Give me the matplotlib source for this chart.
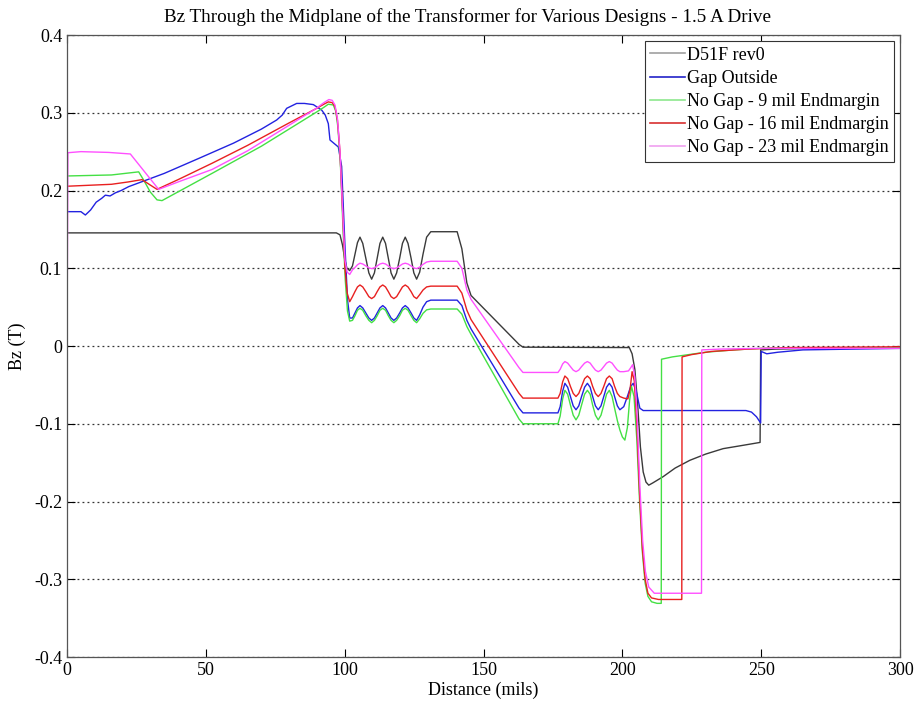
import numpy as np
import matplotlib
matplotlib.use('Agg')
import matplotlib.pyplot as plt

plt.rcParams['font.family'] = ['Liberation Serif', 'DejaVu Serif']

# shared x positions for the ripple regions (mils)
osc1_x = [101.8, 102.8, 103.7, 104.6, 105.5, 106.5, 107.6, 108.7, 109.7, 110.7, 111.7, 112.7,
          113.7, 114.7, 115.7, 116.7, 117.7, 118.7, 119.8, 120.8, 121.8, 122.8, 123.9, 124.9, 125.9]
flat1_x = [127.0, 128.2, 129.5, 131.0, 140.5, 142.2, 144.0, 145.5, 162.8, 164.2]
osc2_x = [176.8, 177.6, 178.5, 179.3, 180.3, 181.3, 182.3, 183.3, 184.3, 185.3, 186.4, 187.4,
          188.4, 189.3, 190.3, 191.3, 192.3, 193.3, 194.3, 195.3, 196.3, 197.2, 198.2, 199.1]

# D51F rev0
rev0_head_x = [0, 97.0, 98.3, 99.2, 100.0, 100.8]
rev0_head_y = [0.1455, 0.1455, 0.143, 0.130, 0.112, 0.100]
rev0_osc1_y = [0.097, 0.103, 0.118, 0.133, 0.140, 0.132, 0.113, 0.094, 0.086, 0.094, 0.113, 0.132,
               0.140, 0.132, 0.113, 0.094, 0.086, 0.094, 0.113, 0.132, 0.140, 0.132, 0.113, 0.094, 0.086]
rev0_flat1_y = [0.095, 0.118, 0.140, 0.147, 0.147, 0.125, 0.081, 0.065, 0.002, -0.0015]
rev0_tail_x = [202.5, 203.5, 204.5, 205.5, 206.5, 207.5, 208.5, 209.5, 211.0, 214.7, 219.0, 224.3,
               230.0, 236.3, 243.0, 249.6, 249.8, 255.0, 270.0, 300.0]
rev0_tail_y = [-0.002, -0.010, -0.030, -0.075, -0.130, -0.162, -0.175, -0.179, -0.176, -0.168, -0.157, -0.147,
               -0.139, -0.132, -0.128, -0.124, -0.005, -0.004, -0.003, -0.003]

# Gap Outside
gap_head_x = [0, 5.0, 6.6, 8.5, 10.5, 12.5, 13.8, 15.5, 17.4, 19.5, 22.2, 35.0, 47.9, 60.0, 70.0, 75.5,
              77.5, 79.1, 82.7, 85.5, 88.7, 91.7, 93.0, 94.1, 94.7, 97.7, 98.9, 100.1, 101.0]
gap_head_y = [0.1728, 0.1728, 0.1685, 0.175, 0.185, 0.190, 0.194, 0.193, 0.197, 0.200, 0.205, 0.222, 0.242,
              0.261, 0.279, 0.2907, 0.297, 0.3057, 0.312, 0.312, 0.3105, 0.3035, 0.297, 0.286, 0.265,
              0.256, 0.231, 0.128, 0.060]
gap_osc1_y = [0.036, 0.036, 0.0425, 0.049, 0.052, 0.049, 0.0425, 0.036, 0.033, 0.036, 0.0425, 0.049,
              0.052, 0.049, 0.0425, 0.036, 0.033, 0.036, 0.0425, 0.049, 0.052, 0.049, 0.0425, 0.036, 0.033]
gap_flat1_y = [0.040, 0.050, 0.057, 0.059, 0.059, 0.052, 0.033, 0.022, -0.080, -0.086]
gap_osc2_y = [-0.086, -0.078, -0.058, -0.048, -0.053, -0.065, -0.077, -0.082, -0.077, -0.065, -0.053, -0.048,
              -0.053, -0.065, -0.077, -0.082, -0.077, -0.065, -0.053, -0.048, -0.053, -0.065, -0.077, -0.082]
gap_tail_x = [200.5, 201.8, 203.0, 203.9, 205.0, 206.3, 207.5, 244.5, 246.5, 248.3, 249.8, 250.0,
              252.0, 256.0, 265.0, 300.0]
gap_tail_y = [-0.078, -0.065, -0.052, -0.048, -0.058, -0.080, -0.083, -0.083, -0.085, -0.091, -0.099, -0.007,
              -0.010, -0.008, -0.005, -0.003]

# No Gap - 9 mil Endmargin
em9_head_x = [0, 16.0, 25.8, 27.5, 30.0, 32.4, 34.2, 52.2, 70.0, 89.9, 92.5, 94.1, 95.9, 96.8,
              97.6, 98.5, 99.4, 100.2, 101.0]
em9_head_y = [0.2187, 0.220, 0.224, 0.214, 0.198, 0.188, 0.187, 0.222, 0.257, 0.301, 0.307, 0.311, 0.310,
              0.302, 0.280, 0.230, 0.150, 0.085, 0.045]
em9_osc1_y = [0.032, 0.033, 0.039, 0.046, 0.0485, 0.046, 0.039, 0.033, 0.030, 0.033, 0.039, 0.046,
              0.0485, 0.046, 0.039, 0.033, 0.030, 0.033, 0.039, 0.046, 0.0485, 0.046, 0.039, 0.033, 0.030]
em9_flat1_y = [0.035, 0.042, 0.0465, 0.0476, 0.0476, 0.041, 0.025, 0.015, -0.094, -0.100]
em9_osc2_y = [-0.100, -0.090, -0.068, -0.057, -0.062, -0.076, -0.089, -0.095, -0.089, -0.076, -0.062, -0.057,
              -0.062, -0.076, -0.089, -0.095, -0.089, -0.076, -0.062, -0.057, -0.065, -0.080, -0.096, -0.108]
em9_tail_x = [200.0, 200.9, 201.8, 202.6, 203.3, 204.2, 205.2, 206.2, 207.2, 208.2, 209.2, 210.5,
              212.5, 214.0, 214.1, 218.0, 222.0, 230.0, 240.0, 250.0, 300.0]
em9_tail_y = [-0.117, -0.121, -0.105, -0.070, -0.052, -0.065, -0.120, -0.200, -0.265, -0.305, -0.322, -0.329,
              -0.331, -0.331, -0.017, -0.014, -0.012, -0.008, -0.005, -0.003, -0.002]

# No Gap - 16 mil Endmargin
em16_head_x = [0, 16.0, 22.0, 27.0, 30.0, 32.4, 40.0, 52.2, 65.0, 80.0, 89.9, 92.5, 94.1, 95.5,
               96.5, 97.4, 98.3, 99.3, 100.1, 100.9]
em16_head_y = [0.2055, 0.208, 0.211, 0.214, 0.207, 0.2015, 0.214, 0.235, 0.258, 0.287, 0.3057, 0.311, 0.314,
               0.313, 0.308, 0.290, 0.250, 0.170, 0.100, 0.068]
em16_osc1_y = [0.057, 0.0635, 0.070, 0.076, 0.0785, 0.076, 0.070, 0.0635, 0.061, 0.0635, 0.070, 0.076,
               0.0785, 0.076, 0.070, 0.0635, 0.061, 0.0635, 0.070, 0.076, 0.0785, 0.076, 0.070, 0.0635, 0.061]
em16_flat1_y = [0.066, 0.072, 0.076, 0.077, 0.077, 0.068, 0.046, 0.034, -0.061, -0.067]
em16_osc2_y = [-0.067, -0.061, -0.046, -0.0386, -0.042, -0.052, -0.061, -0.065, -0.061, -0.052, -0.042, -0.0386,
               -0.042, -0.052, -0.061, -0.065, -0.061, -0.052, -0.042, -0.0386, -0.042, -0.052, -0.061, -0.065]
em16_tail_x = [200.5, 202.0, 202.8, 203.5, 204.3, 205.2, 206.2, 207.2, 208.2, 209.2, 210.5, 213.0,
               221.4, 221.5, 225.0, 232.0, 245.0, 260.0, 300.0]
em16_tail_y = [-0.067, -0.068, -0.055, -0.033, -0.045, -0.100, -0.190, -0.260, -0.300, -0.318, -0.324, -0.326,
               -0.326, -0.014, -0.011, -0.007, -0.004, -0.002, -0.001]

# No Gap - 23 mil Endmargin
em23_head_x = [0, 0.3, 5.0, 15.0, 22.8, 33.0, 40.0, 52.2, 65.0, 80.0, 89.9, 92.5, 94.3, 95.5,
               96.5, 97.4, 98.3, 99.3, 100.1, 100.9]
em23_head_y = [0.0, 0.2486, 0.250, 0.249, 0.247, 0.2015, 0.211, 0.227, 0.251, 0.284, 0.306, 0.313, 0.317,
               0.316, 0.310, 0.292, 0.250, 0.170, 0.110, 0.095]
em23_osc1_y = [0.092, 0.098, 0.101, 0.1045, 0.1065, 0.1055, 0.103, 0.1005, 0.0995, 0.1005, 0.103, 0.1055,
               0.1065, 0.1055, 0.103, 0.1005, 0.0995, 0.1005, 0.103, 0.1055, 0.1065, 0.1055, 0.103, 0.1005, 0.0995]
em23_flat1_y = [0.1015, 0.105, 0.108, 0.109, 0.109, 0.100, 0.072, 0.060, -0.028, -0.034]
em23_osc2_y = [-0.034, -0.030, -0.023, -0.020, -0.022, -0.0265, -0.031, -0.033, -0.031, -0.0265, -0.022, -0.020,
               -0.022, -0.0265, -0.031, -0.033, -0.031, -0.0265, -0.022, -0.020, -0.022, -0.0265, -0.031, -0.033]
em23_tail_x = [200.5, 202.2, 203.0, 203.7, 204.5, 205.3, 206.3, 207.3, 208.3, 209.5, 211.5, 228.5,
               228.6, 235.0, 250.0, 300.0]
em23_tail_y = [-0.033, -0.032, -0.028, -0.024, -0.040, -0.090, -0.180, -0.250, -0.290, -0.310, -0.318, -0.318,
               -0.005, -0.004, -0.003, -0.003]

series = [
    ('D51F rev0', '#3a3a3a', '#a0a0a0',
     rev0_head_x + osc1_x + flat1_x + rev0_tail_x,
     rev0_head_y + rev0_osc1_y + rev0_flat1_y + rev0_tail_y),
    ('Gap Outside', '#2222e0', '#2222c8',
     gap_head_x + osc1_x + flat1_x + osc2_x + gap_tail_x,
     gap_head_y + gap_osc1_y + gap_flat1_y + gap_osc2_y + gap_tail_y),
    ('No Gap - 9 mil Endmargin', '#44e044', '#8ee88e',
     em9_head_x + osc1_x + flat1_x + osc2_x + em9_tail_x,
     em9_head_y + em9_osc1_y + em9_flat1_y + em9_osc2_y + em9_tail_y),
    ('No Gap - 16 mil Endmargin', '#e82020', '#d83030',
     em16_head_x + osc1_x + flat1_x + osc2_x + em16_tail_x,
     em16_head_y + em16_osc1_y + em16_flat1_y + em16_osc2_y + em16_tail_y),
    ('No Gap - 23 mil Endmargin', '#ff50ff', '#f0a0f0',
     em23_head_x + osc1_x + flat1_x + osc2_x + em23_tail_x,
     em23_head_y + em23_osc1_y + em23_flat1_y + em23_osc2_y + em23_tail_y),
]

fig = plt.figure(figsize=(9.17, 7.06), dpi=100)
ax = fig.add_axes([0.0731, 0.0694, 0.9084, 0.881])

handles = []
for label, color, legend_color, xs, ys in series:
    ax.plot(xs, ys, color=color, lw=1.0)
    h, = ax.plot([], [], color=legend_color, lw=1.2, label=label)
    handles.append(h)

ax.set_xlim(0, 300)
ax.set_ylim(-0.4, 0.4)
ax.set_xticks(np.arange(0, 301, 50))
yt = np.round(np.arange(-0.4, 0.41, 0.1), 1)
ax.set_yticks(yt)
ax.set_yticklabels(['0' if v == 0 else f'{v:g}' for v in yt])

ax.yaxis.grid(True, linestyle=(0, (1.5, 2.5)), color='#333333', lw=0.9)
ax.set_axisbelow(True)
ax.tick_params(direction='in', top=True, right=True, length=6, labelsize=13, width=0.8)
for sp in ax.spines.values():
    sp.set_linewidth(0.9)
    sp.set_color('#555555')

fig.text(467 / 917, 1 - 17 / 706,
         'Bz Through the Midplane of the Transformer for Various Designs - 1.5 A Drive',
         fontsize=13.8, ha='center', va='center')
ax.set_xlabel('Distance (mils)', fontsize=13, labelpad=2)
ax.set_ylabel('Bz (T)', fontsize=13, labelpad=6)

leg = ax.legend(handles=handles, loc='upper right', fontsize=13, frameon=True, fancybox=False,
                framealpha=1, edgecolor='#333333', borderpad=0.3, labelspacing=0.34,
                handlelength=1.9, handletextpad=0.1, borderaxespad=0.35)
leg.get_frame().set_linewidth(0.8)

fig.savefig('out.png', dpi=100)
